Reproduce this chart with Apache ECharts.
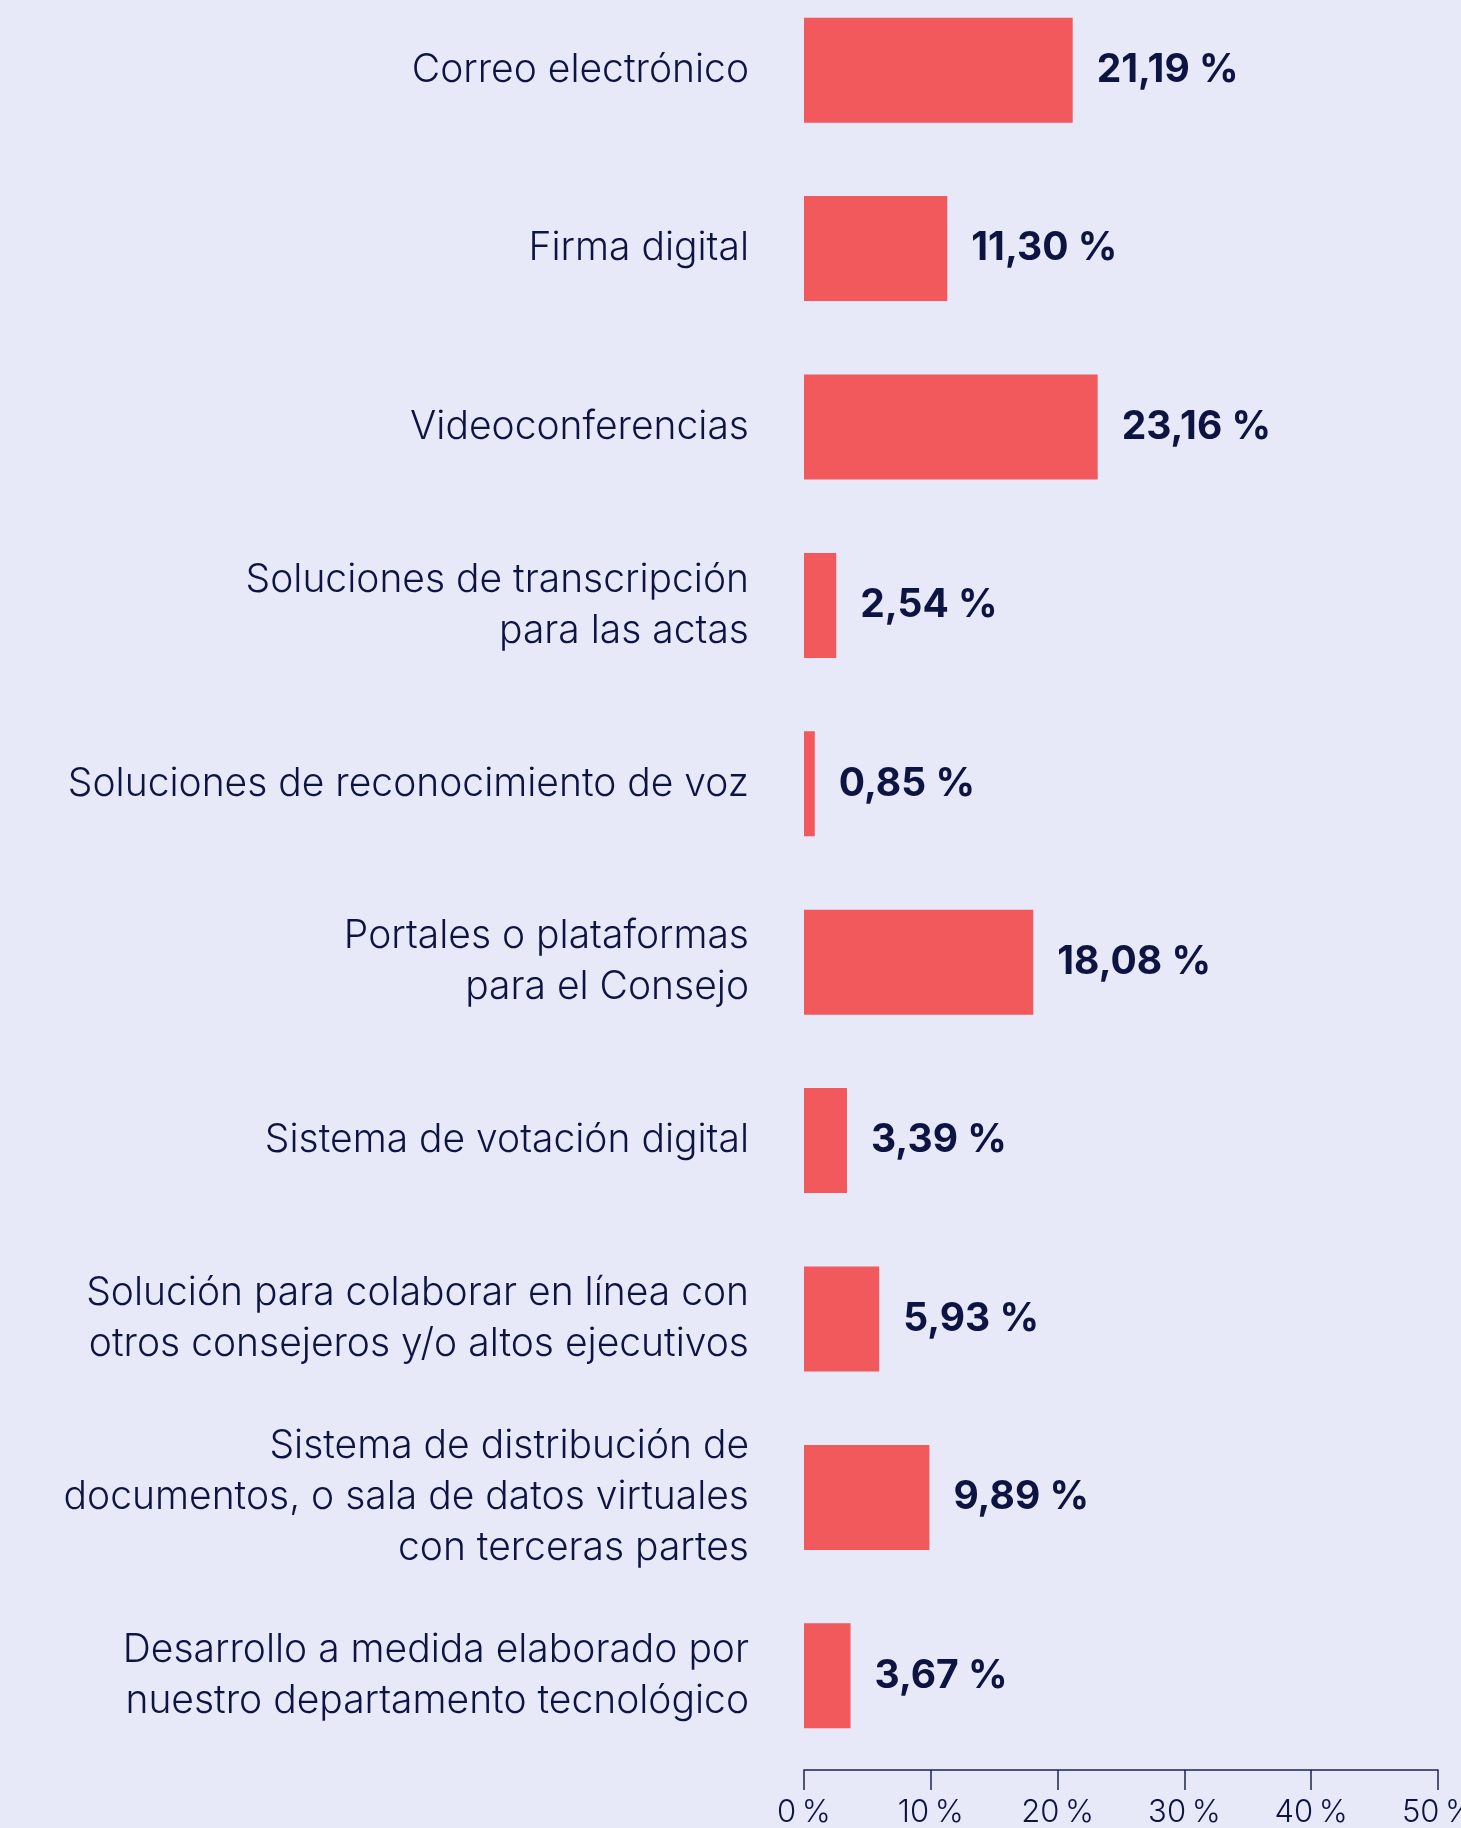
<!DOCTYPE html>
<html>
<head>
<meta charset="utf-8">
<script src="https://cdn.jsdelivr.net/npm/echarts@6/dist/echarts.min.js"></script>
<style>
  html, body { margin: 0; padding: 0; background: #e7e8f8; overflow: hidden; }
  #chart { width: 1461px; height: 1828px; }
</style>
</head>
<body>
<div id="chart"></div>
<script>
// categorías (de arriba a abajo)
var categories = [
  'Correo electrónico',
  'Firma digital',
  'Videoconferencias',
  'Soluciones de transcripción\npara las actas',
  'Soluciones de reconocimiento de voz',
  'Portales o plataformas\npara el Consejo',
  'Sistema de votación digital',
  'Solución para colaborar en línea con\notros consejeros y/o altos ejecutivos',
  'Sistema de distribución de\ndocumentos, o sala de datos virtuales\ncon terceras partes',
  'Desarrollo a medida elaborado por\nnuestro departamento tecnológico'
];
var values = [21.19, 11.30, 23.16, 2.54, 0.85, 18.08, 3.39, 5.93, 9.89, 3.67];
var xTicks = [0, 10, 20, 30, 40, 50];

var navy = '#0d1442';
var chart = echarts.init(document.getElementById('chart'));

var option = {
  backgroundColor: '#e7e8f8',
  animation: false,
  grid: {
    left: 804,
    right: 23,
    top: -19,
    bottom: 63,
    containLabel: false,
    outerBoundsMode: 'none'
  },
  xAxis: {
    type: 'value',
    min: xTicks[0],
    max: xTicks[xTicks.length - 1],
    interval: 10,
    offset: 5,
    axisLine: { show: true, lineStyle: { color: '#1c2350', width: 1.5 } },
    axisTick: { show: true, length: 20, lineStyle: { color: '#1c2350', width: 1.5 } },
    splitLine: { show: false },
    axisLabel: {
      formatter: function (v) { return v + '\u2009%'; },
      color: navy,
      fontFamily: 'Inter',
      fontWeight: 300,
      fontSize: 31,
      margin: 27
    }
  },
  yAxis: {
    type: 'category',
    inverse: true,
    data: categories,
    axisLine: { show: false },
    axisTick: { show: false },
    axisLabel: {
      color: navy,
      fontFamily: 'Inter',
      fontWeight: 300,
      fontSize: 39,
      lineHeight: 51,
      align: 'right',
      margin: 55
    }
  },
  series: [{
    type: 'bar',
    data: values,
    barWidth: 105,
    itemStyle: { color: '#f2595c' },
    label: {
      show: true,
      position: 'right',
      distance: 24,
      formatter: function (p) { return p.value.toFixed(2).replace('.', ',') + ' %'; },
      color: navy,
      fontFamily: 'Inter',
      fontWeight: 'bold',
      fontSize: 39
    }
  }]
};

chart.setOption(option);
</script>
</body>
</html>
